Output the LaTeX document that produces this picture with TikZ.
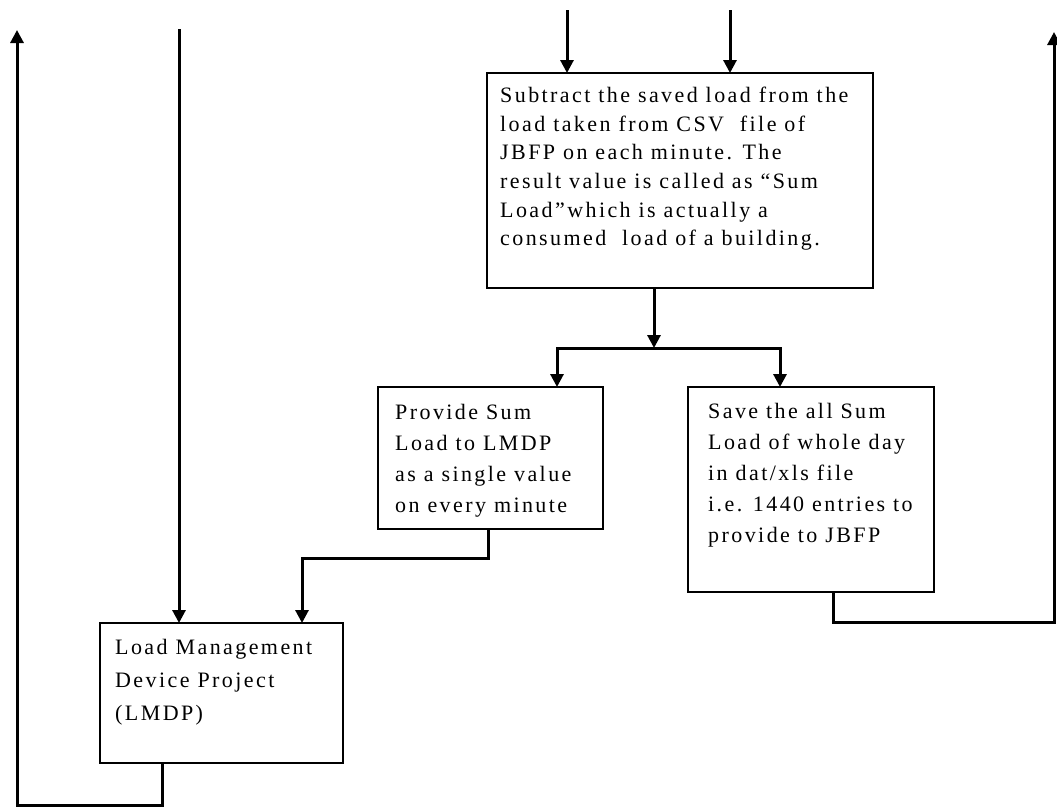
\documentclass[tikz,border=0pt]{standalone}
\usepackage{fontspec}
\setmainfont{Liberation Serif}[LetterSpace=11]
\usetikzlibrary{arrows.meta,calc}
\newcommand\boxfont[1]{\fontsize{22pt}{#1pt}\selectfont}

\begin{document}
\begin{tikzpicture}[x=1pt,y=-1pt,
  box/.style={draw, line width=1.6pt, anchor=north west, inner sep=0pt, outer sep=0pt},
  txt/.style={anchor=north west, inner sep=0pt, align=left},
  conn/.style={line width=3pt, line join=miter},
  tip/.tip={Triangle[length=13pt,width=13pt]},
  arr/.style={conn, -tip}]
\useasboundingbox (0,0) rectangle (1057,807);
\fill[white] (0,0) rectangle (1057,807);

% boxes
\node[box, minimum width=386pt, minimum height=215pt] (sub)  at (487,73)  {};
\node[box, minimum width=225pt, minimum height=142pt] (prov) at (378,387) {};
\node[box, minimum width=246pt, minimum height=205pt] (save) at (688,387) {};
\node[box, minimum width=243pt, minimum height=140pt] (lmdp) at (100,623) {};

% box texts
\node[txt, font=\boxfont{28.6}] (subt) at (500,87)
  {Subtract the saved load from the\\
   load taken from CSV\ \ file of\\
   JBFP on each minute. The\\
   result value is called as ``Sum\\
   Load''which is actually a\\
   consumed\ \ load of a building.};
\node[txt, font=\boxfont{31}] (provt) at (395,404)
  {Provide Sum\\ Load to LMDP\\ as a single value\\ on every minute};
\node[txt, font=\boxfont{31}] (savet) at (708,403)
  {Save the all Sum\\ Load of whole day\\ in dat/xls file\\ i.e. 1440 entries to\\ provide to JBFP};
\node[txt, font=\boxfont{33}] (lmdpt) at (115,639)
  {Load Management\\ Device Project\\ (LMDP)};

% free ends and bends
\coordinate (inA) at (567,10);
\coordinate (inB) at (730,10);
\coordinate (inC) at (179,29);
\coordinate (fork) at (654,348);
\coordinate (forkL) at (557,348);
\coordinate (forkR) at (780,348);
\coordinate (p1) at (488,558);
\coordinate (p2) at (302,558);
\coordinate (l1) at (162,805);
\coordinate (l2) at (17,805);
\coordinate (outL) at (17,30);
\coordinate (r1) at (833,622);
\coordinate (r2) at (1054,622);
\coordinate (outR) at (1054,32);

% connectors
\draw[arr] (inA) -- (inA |- sub.north);
\draw[arr] (inB) -- (inB |- sub.north);
\draw[arr] (sub.south -| fork) -- (fork);
\draw[conn, tip-tip] (forkL |- prov.north) -- (forkL) -- (forkR) -- (forkR |- save.north);
\draw[arr] (prov.south -| p1) -- (p1) -- (p2) -- (p2 |- lmdp.north);
\draw[arr] (inC) -- (inC |- lmdp.north);
\draw[arr] (lmdp.south -| l1) -- (l1) -- (l2) -- (outL);
\draw[arr] (save.south -| r1) -- (r1) -- (r2) -- (outR);
\end{tikzpicture}
\end{document}
